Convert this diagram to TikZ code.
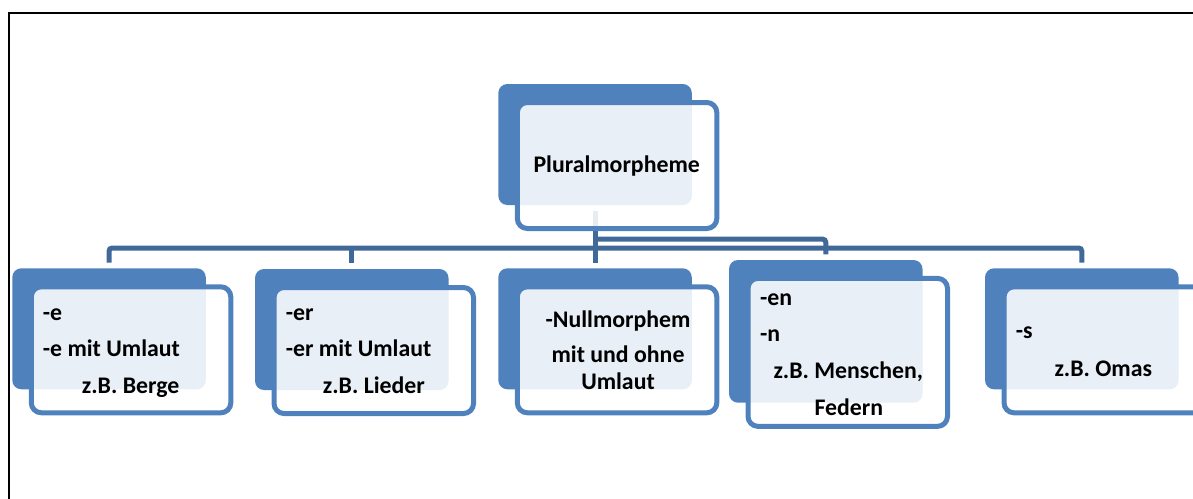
\documentclass[tikz,border=0pt]{standalone}
\usepackage{fontspec}
\setmainfont{Carlito}
\usetikzlibrary{calc}

\definecolor{boxblue}{HTML}{4F81BD}
\definecolor{linkblue}{RGB}{64,104,153}

% stacked lines, left aligned, first baseline is the node baseline
\newcommand\leftlines[1]{\vtop{\baselineskip=36.7pt\lineskiplimit=-100pt\halign{##\hfil\cr#1\crcr}}}
% stacked lines, centred
\newcommand\midlines[1]{\vtop{\baselineskip=35pt\lineskiplimit=-100pt\halign{\hfil##\hfil\cr#1\crcr}}}

\tikzset{
  backbox/.style={fill=boxblue, rounded corners=9pt, minimum width=193.5pt,
    minimum height=121pt, inner sep=0pt, outer sep=0pt, anchor=north west},
  frontbox/.style={draw=boxblue, line width=5pt, fill=white, fill opacity=0.875,
    rounded corners=10pt, minimum width=199.5pt, minimum height=126pt, inner sep=0pt},
  link/.style={draw=linkblue, line width=5pt, rounded corners=3pt},
  boxtext/.style={inner sep=0pt, font=\fontsize{23.8}{36.7}\selectfont\bfseries, anchor=base west},
}

\begin{document}
\begin{tikzpicture}[x=1pt, y=-1pt]
  \useasboundingbox (0,0) rectangle (1193,498);
  \clip (0,0) rectangle (1193,498);

  % page frame
  \draw[line width=2pt] (8.5,530) -- (8.5,12.5) -- (1230,12.5);

  % back plates
  \node[backbox] (b0) at (498.3,84) {};
  \node[backbox] (b1) at (12.3,268.3) {};
  \node[backbox] (b2) at (255,269) {};
  \node[backbox] (b3) at (498.3,268.3) {};
  \node[backbox, minimum height=142.7pt] (b4) at (729,260) {};
  \node[backbox] (b5) at (985,268.3) {};

  % connectors
  \coordinate (barA) at (0,248);
  \coordinate (barB) at (0,239.2);
  \draw[link] ($(b0.south)+(0,6)$) -- ($(b3.north)+(0,-5.7)$);
  \draw[link] ($(b1.north)+(0,-5.7)$) -- (b1.north |- barA) -- (b5.north |- barA) -- ($(b5.north)+(0,-5.7)$);
  \draw[link] (b2.north |- barA) -- ($(b2.north)+(0,-5.7)$);
  \draw[link] (b0.south |- barB) -- (b4.north |- barB) -- ($(b4.north)+(0,-5.7)$);

  % front frames
  \node[frontbox] (f0) at ($(b0.center)+(22,21)$) {};
  \node[frontbox] (f1) at ($(b1.center)+(22,21)$) {};
  \node[frontbox] (f2) at ($(b2.center)+(22,21)$) {};
  \node[frontbox] (f3) at ($(b3.center)+(22,21)$) {};
  \node[frontbox, minimum height=148pt] (f4) at ($(b4.center)+(22,21)$) {};
  \node[frontbox] (f5) at ($(b5.center)+(22,21)$) {};

  % texts
  \node[boxtext] (t0) at (533.3,172.7) {Pluralmorpheme};
  \node[boxtext] (t1) at (42.7,320) {\leftlines{-e\cr -e mit Umlaut\cr\hskip39pt z.B. Berge}};
  \node[boxtext] (t2) at (285.7,320) {\leftlines{-er\cr -er mit Umlaut\cr\hskip37pt z.B. Lieder}};
  \node[boxtext, anchor=base] (t3) at (618,327) {\midlines{-Nullmorphem\cr mit und ohne\cr\noalign{\vskip-8pt} Umlaut}};
  \node[boxtext] (t4) at (760,305) {\leftlines{-en\cr -n\cr\hskip13.3pt z.B. Menschen,\cr\hskip54.3pt Federn}};
  \node[boxtext] (t5) at (1015.7,338.3) {\leftlines{-s\cr\noalign{\vskip1pt}\hskip38.6pt z.B. Omas}};
\end{tikzpicture}
\end{document}
